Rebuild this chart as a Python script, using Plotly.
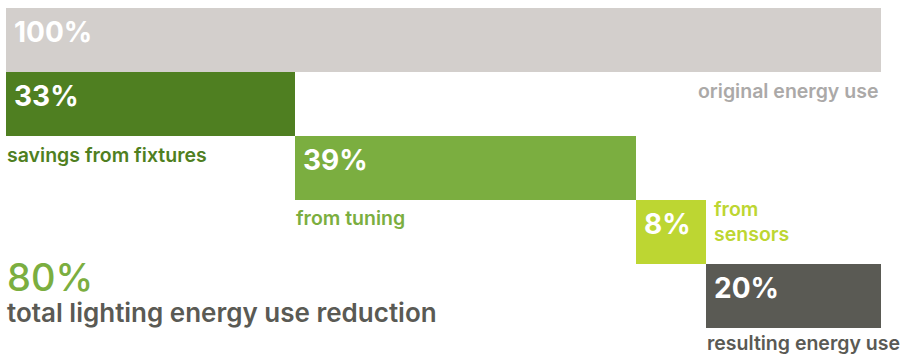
import plotly.graph_objects as go

categories = ["original energy use", "savings from fixtures", "from tuning", "from sensors", "resulting energy use"]
values = [100, 33, 39, 8, 20]
bar_labels = ["100%", "33%", "39%", "8%", "20%"]
captions = ["original energy use", "savings from fixtures", "from tuning", "from<br>sensors", "resulting energy use"]

bar_colors = ["#D3CFCC", "#4F7F21", "#7BAE40", "#BDD632", "#5A5A54"]
caption_colors = ["#ABA9A8", "#4F7F21", "#7BAE40", "#BDD632", "#5A5A54"]

# waterfall bases
bases = [0]
running = 0
for v in values[1:-1]:
    bases.append(running)
    running += v
bases.append(values[0] - values[-1])

FONT = "Inter"
rows = list(range(len(categories)))

fig = go.Figure(go.Bar(
    y=rows, x=values, base=bases, orientation="h",
    marker=dict(color=bar_colors, line=dict(width=0)),
    width=1, hoverinfo="skip",
))

ann = []
for i, (lab, b) in enumerate(zip(bar_labels, bases)):
    ann.append(dict(x=b, y=i, xref="x", yref="y", text=lab, showarrow=False,
                    xanchor="left", yanchor="middle", xshift=6, yshift=8,
                    font=dict(family=FONT, size=28, color="white", weight=700)))

cap_font = lambda c: dict(family=FONT, size=19.5, color=c, weight=600)
ann.append(dict(x=bases[0] + values[0], y=1, xref="x", yref="y", text=captions[0], showarrow=False,
                xanchor="right", yanchor="middle", xshift=-1, yshift=13, font=cap_font(caption_colors[0])))
ann.append(dict(x=bases[1], y=2, xref="x", yref="y", text=captions[1], showarrow=False,
                xanchor="left", yanchor="middle", xshift=-1, yshift=13, font=cap_font(caption_colors[1])))
ann.append(dict(x=bases[2], y=3, xref="x", yref="y", text=captions[2], showarrow=False,
                xanchor="left", yanchor="middle", xshift=-1, yshift=14, font=cap_font(caption_colors[2])))
ann.append(dict(x=bases[4], y=3, xref="x", yref="y", text=captions[3], showarrow=False, align="left",
                xanchor="left", yanchor="middle", xshift=6, yshift=11, font=cap_font(caption_colors[3])))
ann.append(dict(x=bases[4], y=4, xref="x", yref="y", text=captions[4], showarrow=False,
                xanchor="left", yanchor="middle", xshift=-1, yshift=-47, font=cap_font(caption_colors[4])))

total = values[0] - values[-1]
ann.append(dict(x=0, y=4, xref="x", yref="y", text=f"{total}%", showarrow=False,
                xanchor="left", yanchor="middle", xshift=-1, yshift=19,
                font=dict(family=FONT, size=38, color="#7BAE40", weight=500)))
ann.append(dict(x=0, y=4, xref="x", yref="y", text="total lighting energy use reduction", showarrow=False,
                xanchor="left", yanchor="middle", xshift=-1, yshift=-16,
                font=dict(family=FONT, size=26, color="#5A5A54", weight=600)))

fig.update_layout(
    width=904, height=355,
    margin=dict(l=6, r=23, t=8, b=27),
    paper_bgcolor="white", plot_bgcolor="white",
    bargap=0, showlegend=False,
    xaxis=dict(range=[0, 100], visible=False, fixedrange=True),
    yaxis=dict(range=[4.5, -0.5], visible=False, fixedrange=True),
    annotations=ann,
)

fig.write_html("out.html", config={"displayModeBar": False},
               post_script="document.body.style.margin='0';")
